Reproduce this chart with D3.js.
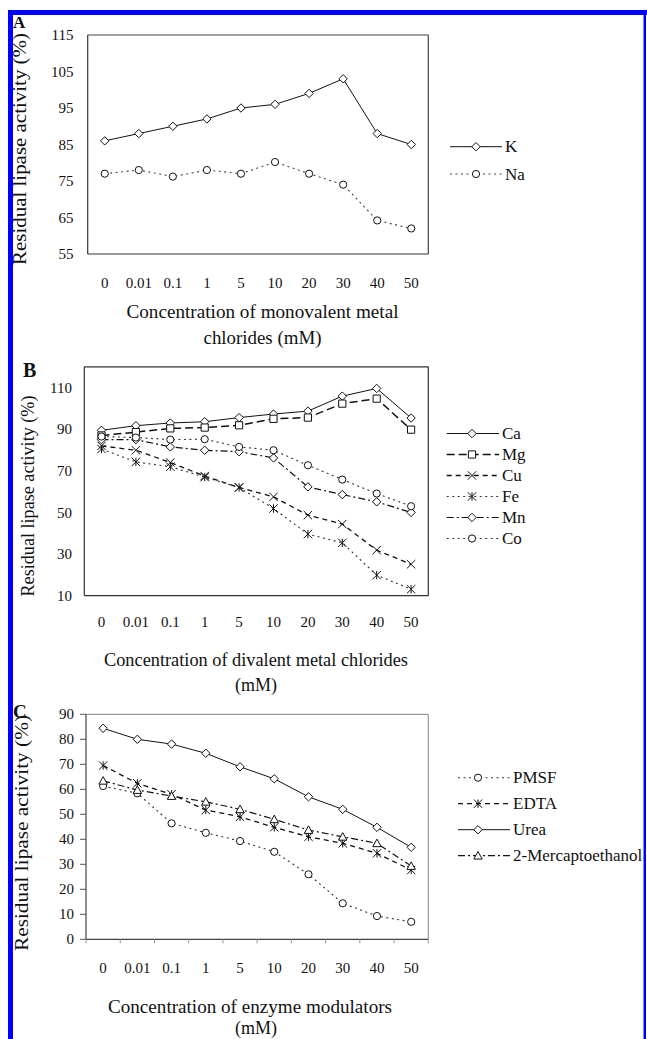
<!DOCTYPE html>
<html>
<head>
<meta charset="utf-8">
<script src="https://cdn.jsdelivr.net/npm/d3@7"></script>
<style>
  body { margin: 0; background: #fff; }
  text { font-family: "Liberation Serif", "Times New Roman", serif; fill: #111; }
</style>
</head>
<body>
<div id="viz"></div>
<script>
// concentrations (mM), shared x categories
const concLabels = ["0", "0.01", "0.1", "1", "5", "10", "20", "30", "40", "50"];

// panel A - monovalent metal chlorides
const kVals  = [86, 88, 90, 92, 95, 96, 99, 103, 88, 85];
const naVals = [77, 78, 76.2, 78, 77, 80.2, 77, 74, 64.2, 62];
const ticksA = [55, 65, 75, 85, 95, 105, 115];

// panel B - divalent metal chlorides
const caVals = [89.5, 91.7, 93, 93.6, 95.6, 97.3, 98.7, 105.9, 109.6, 95.4];
const mgVals = [87, 88.6, 90.4, 90.8, 91.9, 95, 95.6, 102.3, 104.7, 89.8];
const cuVals = [82, 79.9, 74, 67.5, 62, 57.5, 48.7, 44.4, 31.9, 25.1];
const feVals = [80.5, 74.3, 72, 67, 62, 51.9, 39.6, 35.4, 19.9, 13.1];
const mnVals = [85, 85, 81.5, 79.9, 79.2, 76.2, 62.3, 58.6, 55.1, 50];
const coVals = [86.5, 86, 85, 85.2, 81.5, 79.9, 72.7, 65.8, 59.1, 53];
const ticksB = [10, 30, 50, 70, 90, 110];

// panel C - enzyme modulators
const pmsfVals = [61.3, 58.4, 46.4, 42.6, 39.3, 35, 26, 14.4, 9.3, 7];
const edtaVals = [69.5, 62.4, 58, 51.7, 49, 44.8, 41, 38.4, 34.4, 27.7];
const ureaVals = [84.4, 80, 78.1, 74.4, 69, 64.2, 57, 52, 44.8, 36.8];
const mercVals = [63.4, 59.7, 57.3, 55, 52, 48, 43.7, 41, 38.4, 29.3];
const ticksC = [0, 10, 20, 30, 40, 50, 60, 70, 80, 90];

const width = 647, height = 1039;

const svg = d3.select("#viz").append("svg")
    .attr("width", width)
    .attr("height", height);

const dash = {
    solid: null,
    dot: "2,3.5",
    dash: "5,4",
    longdash: "8,4",
    dashdot: "7,3,2,3"
};

function markerPath(type, s) {
    if (type === "diamond") return `M0,${-s}L${s},0L0,${s}L${-s},0Z`;
    if (type === "circle") return `M${-s},0A${s},${s} 0 1,0 ${s},0A${s},${s} 0 1,0 ${-s},0Z`;
    if (type === "square") return `M${-s},${-s}H${s}V${s}H${-s}Z`;
    if (type === "x") return `M${-s},${-s}L${s},${s}M${-s},${s}L${s},${-s}`;
    if (type === "star") return `M${-s},${-s}L${s},${s}M${-s},${s}L${s},${-s}M0,${-s}L0,${s}`;
    if (type === "triangle") return `M0,${-s}L${s},${s * 0.8}L${-s},${s * 0.8}Z`;
}

function drawMarker(sel, type) {
    const size = type === "circle" ? 3.6 : type === "square" ? 3.6 : 4.2;
    sel.attr("d", markerPath(type, size))
        .attr("fill", (type === "x" || type === "star") ? "none" : "#fff")
        .attr("stroke", "#111")
        .attr("stroke-width", 1);
}

function drawPanel(p) {
    const x = d3.scalePoint().domain(concLabels).range([p.left, p.right]).padding(0.5);
    const y = d3.scaleLinear().domain(p.yDomain).range([p.bottom, p.top]);
    const g = svg.append("g");

    // plot frame
    g.append("line").attr("x1", p.left).attr("x2", p.right).attr("y1", p.top).attr("y2", p.top)
        .attr("stroke", p.frameLight).attr("stroke-width", 1.2);
    g.append("line").attr("x1", p.right).attr("x2", p.right).attr("y1", p.top).attr("y2", p.bottom)
        .attr("stroke", p.frameLight).attr("stroke-width", 1.2);
    g.append("line").attr("x1", p.left).attr("x2", p.left).attr("y1", p.top).attr("y2", p.bottom)
        .attr("stroke", p.frameDark).attr("stroke-width", 1.2);
    g.append("line").attr("x1", p.left).attr("x2", p.right).attr("y1", p.bottom).attr("y2", p.bottom)
        .attr("stroke", p.frameDark).attr("stroke-width", 1.2);

    if (p.ticks) {
        g.selectAll(".ytick-mark")
            .data(p.yTicks)
            .join("line")
                .attr("x1", p.left - 6).attr("x2", p.left)
                .attr("y1", d => y(d)).attr("y2", d => y(d))
                .attr("stroke", "#555");
        const step = x.step();
        g.selectAll(".xtick-mark")
            .data(d3.range(concLabels.length + 1))
            .join("line")
                .attr("x1", i => p.left + i * step).attr("x2", i => p.left + i * step)
                .attr("y1", p.bottom).attr("y2", p.bottom + 4)
                .attr("stroke", "#999");
    }

    g.selectAll(".ylab")
        .data(p.yTicks)
        .join("text")
            .attr("x", p.yLabelX)
            .attr("y", d => y(d))
            .attr("dy", "0.34em")
            .attr("text-anchor", "end")
            .style("font-size", "15px")
            .text(d => d);

    g.selectAll(".xlab")
        .data(concLabels)
        .join("text")
            .attr("x", d => x(d))
            .attr("y", p.xLabelY)
            .attr("text-anchor", "middle")
            .style("font-size", "15px")
            .text(d => d);

    // series lines then markers
    const line = d3.line().x((d, i) => x(concLabels[i])).y(d => y(d));
    p.series.forEach(s => {
        g.append("path")
            .datum(s.values)
            .attr("d", line)
            .attr("fill", "none")
            .attr("stroke", s.color || "#111")
            .attr("stroke-width", s.width || 1)
            .attr("stroke-dasharray", dash[s.style]);
    });
    p.series.forEach(s => {
        g.selectAll(null)
            .data(s.values)
            .join("path")
                .attr("transform", (d, i) => `translate(${x(concLabels[i])},${y(d)})`)
                .call(drawMarker, s.marker);
    });

    // legend
    p.series.forEach((s, i) => {
        const ly = p.legend.y + i * p.legend.step;
        g.append("line")
            .attr("x1", p.legend.x1).attr("x2", p.legend.x2)
            .attr("y1", ly).attr("y2", ly)
            .attr("stroke", s.color || "#111")
            .attr("stroke-width", s.width || 1)
            .attr("stroke-dasharray", dash[s.style]);
        g.append("path")
            .attr("transform", `translate(${p.legend.mx},${ly})`)
            .call(drawMarker, s.marker);
        g.append("text")
            .attr("x", p.legend.x2 + 3)
            .attr("y", ly)
            .attr("dy", "0.34em")
            .style("font-size", "17px")
            .text(s.name);
    });

    // axis titles
    p.xTitle.forEach(t => {
        g.append("text")
            .attr("x", t.x).attr("y", t.y)
            .attr("text-anchor", "middle")
            .attr("textLength", t.len)
            .attr("lengthAdjust", "spacingAndGlyphs")
            .style("font-size", "18px")
            .text(t.text);
    });
    g.append("text")
        .attr("transform", `translate(${p.yTitle.x},${p.yTitle.y}) rotate(-90)`)
        .attr("text-anchor", "middle")
        .attr("dy", "0.34em")
        .attr("textLength", p.yTitle.len)
        .attr("lengthAdjust", "spacingAndGlyphs")
        .style("font-size", "18px")
        .text("Residual lipase activity (%)");

    g.append("text")
        .attr("x", p.letter.x).attr("y", p.letter.y)
        .style("font-size", p.letter.size + "px")
        .style("font-weight", "bold")
        .text(p.letter.text);
}

drawPanel({
    left: 87.7, right: 428.3, top: 35, bottom: 254,
    yDomain: [55, 115], yTicks: ticksA, yLabelX: 73.5, xLabelY: 288,
    frameLight: "#444", frameDark: "#333",
    series: [
        { name: "K", values: kVals, style: "solid", marker: "diamond" },
        { name: "Na", values: naVals, style: "dot", marker: "circle", color: "#444", width: 1.1 }
    ],
    legend: { x1: 450, x2: 502, mx: 476, y: 146.7, step: 27.3 },
    xTitle: [
        { text: "Concentration of monovalent metal", x: 262.5, y: 318, len: 272 },
        { text: "chlorides (mM)", x: 262.5, y: 344, len: 118 }
    ],
    yTitle: { x: 20, y: 149, len: 232 },
    letter: { text: "A", x: 13, y: 28, size: 17 }
});

drawPanel({
    left: 84.3, right: 428.3, top: 366.8, bottom: 595.7,
    yDomain: [10, 120], yTicks: ticksB, yLabelX: 72, xLabelY: 627,
    frameLight: "#333", frameDark: "#333",
    series: [
        { name: "Ca", values: caVals, style: "solid", marker: "diamond" },
        { name: "Mg", values: mgVals, style: "longdash", marker: "square", width: 1.5 },
        { name: "Cu", values: cuVals, style: "dash", marker: "x", width: 1.3 },
        { name: "Fe", values: feVals, style: "dot", marker: "star", color: "#333", width: 1.1 },
        { name: "Mn", values: mnVals, style: "dashdot", marker: "diamond", width: 1.2 },
        { name: "Co", values: coVals, style: "dot", marker: "circle", color: "#333", width: 1.1 }
    ],
    legend: { x1: 446.7, x2: 499, mx: 472, y: 433.5, step: 21 },
    xTitle: [
        { text: "Concentration of divalent metal chlorides", x: 256, y: 666, len: 304 },
        { text: "(mM)", x: 256, y: 691, len: 42 }
    ],
    yTitle: { x: 28, y: 496, len: 201 },
    letter: { text: "B", x: 23, y: 377, size: 20 }
});

drawPanel({
    left: 86, right: 428.3, top: 714.3, bottom: 939.3,
    yDomain: [0, 90], yTicks: ticksC, yLabelX: 74, xLabelY: 973,
    frameLight: "#999", frameDark: "#444", ticks: true,
    series: [
        { name: "PMSF", values: pmsfVals, style: "dot", marker: "circle", color: "#333", width: 1.1 },
        { name: "EDTA", values: edtaVals, style: "dash", marker: "star", width: 1.3 },
        { name: "Urea", values: ureaVals, style: "solid", marker: "diamond" },
        { name: "2-Mercaptoethanol", values: mercVals, style: "dashdot", marker: "triangle", width: 1.2 }
    ],
    legend: { x1: 458, x2: 510, mx: 478, y: 777.7, step: 26 },
    xTitle: [
        { text: "Concentration of enzyme modulators", x: 250, y: 1013, len: 284 },
        { text: "(mM)", x: 256, y: 1034, len: 42 }
    ],
    yTitle: { x: 22, y: 833, len: 236 },
    letter: { text: "C", x: 13, y: 718, size: 19 }
});

// blue page frame
svg.append("rect").attr("x", 8).attr("y", 10).attr("width", 5).attr("height", height - 10).attr("fill", "#0000ff");
svg.append("rect").attr("x", 8).attr("y", 10).attr("width", width - 8).attr("height", 5).attr("fill", "#0000ff");
svg.append("rect").attr("x", 643.5).attr("y", 10).attr("width", 2.5).attr("height", height - 10).attr("fill", "#0000ff");
</script>
</body>
</html>
